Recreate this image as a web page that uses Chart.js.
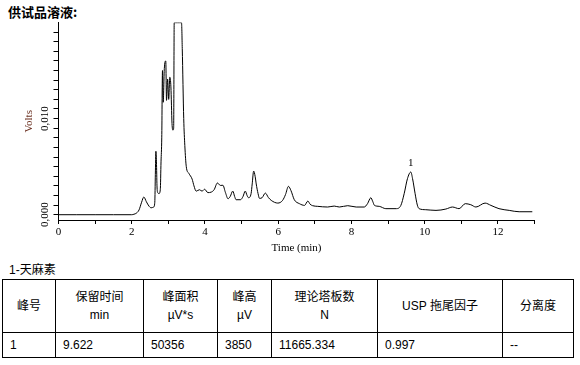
<!DOCTYPE html>
<html>
<head>
<meta charset="utf-8">
<script src="https://cdn.jsdelivr.net/npm/chart.js@4.4.1/dist/chart.umd.min.js"></script>
<style>
  body { margin: 0; background: #fff; width: 580px; height: 365px; position: relative; overflow: hidden;
         font-family: "Liberation Sans", Arial, "Noto Sans CJK SC", sans-serif; color: #000; }
  #title { position: absolute; left: 8px; top: 2px; font: bold 13px "Noto Sans CJK SC", sans-serif; }
  #wrap { position: absolute; left: 0; top: 0; width: 580px; height: 260px; }
  #compound { position: absolute; left: 9px; top: 260px; font-size: 12px; }
  table { position: absolute; left: 2px; top: 279px; border-collapse: collapse; font-size: 12px; }
  td { border: 1px solid #000; padding: 0 0 0 7px; }
  tr.head td { height: 52px; text-align: center; padding: 0; line-height: 18px; }
  tr.row td { height: 24px; }
</style>
</head>
<body>
<div id="title">供试品溶液:</div>
<div id="wrap"><canvas id="chromChart" width="580" height="260"></canvas></div>
<div id="compound">1-天麻素</div>
<table>
  <colgroup>
    <col style="width:53px"><col style="width:88px"><col style="width:74px"><col style="width:54px">
    <col style="width:106px"><col style="width:125px"><col style="width:71px">
  </colgroup>
  <tr class="head">
    <td>峰号</td><td>保留时间<br>min</td><td>峰面积<br>µV*s</td><td>峰高<br>µV</td>
    <td>理论塔板数<br>N</td><td>USP 拖尾因子</td><td>分离度</td>
  </tr>
  <tr class="row">
    <td>1</td><td>9.622</td><td>50356</td><td>3850</td><td>11665.334</td><td>0.997</td><td>--</td>
  </tr>
</table>
<script>
// retention time (min) and detector signal (V)
const times = [0, 0.5, 1.0, 1.5, 2.0, 2.06, 2.13, 2.2, 2.27, 2.33, 2.4, 2.47, 2.53, 2.6,
  2.63, 2.645, 2.66, 2.675, 2.69, 2.71, 2.745, 2.78, 2.8, 2.82, 2.84, 2.86, 2.89, 2.93,
  2.95, 2.98, 3.01, 3.04, 3.07, 3.1, 3.125, 3.145, 3.16, 3.2, 3.25, 3.3, 3.36, 3.38,
  3.42, 3.45, 3.49, 3.56, 3.65, 3.7, 3.76, 3.85, 3.92, 3.99, 4.08, 4.17, 4.25, 4.34,
  4.42, 4.49, 4.56, 4.63, 4.69, 4.76, 4.81, 4.85, 4.97, 5.04, 5.1, 5.15, 5.19, 5.26,
  5.29, 5.33, 5.37, 5.4, 5.45, 5.49, 5.56, 5.65, 5.73, 5.81, 5.99, 6.12, 6.2, 6.28,
  6.35, 6.44, 6.58, 6.72, 6.81, 6.87, 6.94, 7.08, 7.35, 7.53, 7.67, 7.9, 8.13, 8.35,
  8.44, 8.53, 8.58, 8.63, 8.76, 8.94, 9.22, 9.35, 9.44, 9.53, 9.622, 9.67, 9.74, 9.8,
  9.85, 10.03, 10.31, 10.58, 10.76, 10.94, 11.11, 11.26, 11.4, 11.65, 11.81, 12.03,
  12.31, 12.58, 12.94];
const volts = [0, 0, 0, 0, 0, 0.00005, 0.00017, 0.0005, 0.0013, 0.00184, 0.00135, 0.0009, 0.00072, 0.0008,
  0.0013, 0.0042, 0.0066, 0.0055, 0.003, 0.0023, 0.0022, 0.0026, 0.0055, 0.008, 0.015, 0.0117, 0.0152, 0.016,
  0.0119, 0.0141, 0.012, 0.0143, 0.0133, 0.0095, 0.0088, 0.009, 0.01998, 0.01998, 0.01998, 0.01998, 0.01998, 0.0173,
  0.01, 0.0072, 0.005, 0.0043, 0.0037, 0.003, 0.00245, 0.0026, 0.00245, 0.00265, 0.0023, 0.00235, 0.0026, 0.0033,
  0.00305, 0.00306, 0.0023, 0.00166, 0.0019, 0.00246, 0.0019, 0.00156, 0.00156, 0.0019, 0.00246, 0.002, 0.00177, 0.0022,
  0.0032, 0.00454, 0.004, 0.0032, 0.0022, 0.0017, 0.00177, 0.00225, 0.0018, 0.00149, 0.00121, 0.00149, 0.0021, 0.00295,
  0.0025, 0.00156, 0.00115, 0.00097, 0.00142, 0.0011, 0.00094, 0.00087, 0.0008, 0.0009, 0.0008, 0.00094, 0.0008, 0.0008,
  0.00115, 0.00177, 0.0014, 0.00097, 0.00087, 0.00063, 0.00063, 0.00097, 0.00218, 0.00375, 0.00444, 0.00375, 0.00218, 0.001,
  0.00063, 0.00052, 0.00045, 0.00059, 0.0008, 0.00063, 0.00115, 0.00104, 0.0008, 0.00121, 0.00097, 0.00063,
  0.00045, 0.00031, 0.00031];
const xTicks = [0, 1, 2, 3, 4, 5, 6, 7, 8, 9, 10, 11, 12, 13];
const yTicks = [0, 0.001, 0.002, 0.003, 0.004, 0.005, 0.006, 0.007, 0.008, 0.009, 0.01,
  0.011, 0.012, 0.013, 0.014, 0.015, 0.016, 0.017, 0.018, 0.019];
const yLabels = {'0': '0,000', '0.01': '0,010'};
const peakTimes = [9.622];
const peakNames = ['1'];

const serif = '"Liberation Serif", "Times New Roman", serif';

// rotated y tick labels and peak names
const extras = {
  id: 'extras',
  afterDraw(chart) {
    const ctx = chart.ctx;
    const x = chart.scales.x, y = chart.scales.y;
    ctx.save();
    ctx.fillStyle = '#000';
    ctx.font = '11px ' + serif;
    ctx.textAlign = 'center';
    ctx.textBaseline = 'middle';
    Object.keys(yLabels).forEach(function (v) {
      ctx.save();
      ctx.translate(45, y.getPixelForValue(parseFloat(v)));
      ctx.rotate(-Math.PI / 2);
      ctx.fillText(yLabels[v], 0, 0);
      ctx.restore();
    });
    ctx.textBaseline = 'bottom';
    peakTimes.forEach(function (t, i) {
      const idx = times.indexOf(t);
      ctx.fillText(peakNames[i], x.getPixelForValue(t), y.getPixelForValue(volts[idx]) - 3);
    });
    ctx.restore();
  }
};

const points = times.map(function (t, i) { return {x: t, y: volts[i]}; });

new Chart(document.getElementById('chromChart').getContext('2d'), {
  type: 'line',
  data: {
    datasets: [{
      data: points,
      borderColor: '#000',
      borderWidth: 1,
      pointRadius: 0,
      fill: false,
      cubicInterpolationMode: 'monotone'
    }]
  },
  options: {
    responsive: false,
    animation: false,
    layout: { padding: { left: 0, top: 22.5, right: 45.5, bottom: 5 } },
    plugins: { legend: { display: false }, tooltip: { enabled: false } },
    scales: {
      x: {
        type: 'linear',
        min: 0,
        max: 13,
        afterBuildTicks: function (s) { s.ticks = xTicks.map(function (v) { return {value: v}; }); },
        afterFit: function (s) { s.height = 35; },
        ticks: {
          autoSkip: false,
          maxRotation: 0,
          padding: 2,
          color: '#000',
          font: { family: serif, size: 11 },
          callback: function (v) { return v % 2 === 0 ? String(v) : ''; }
        },
        grid: { drawOnChartArea: false, drawTicks: true, tickLength: 4, color: '#000' },
        border: { display: true, color: '#000', width: 1 },
        title: { display: true, text: 'Time (min)', color: '#000', font: { family: serif, size: 11 }, padding: { top: 0, bottom: 0 } }
      },
      y: {
        type: 'linear',
        min: -0.00055,
        max: 0.02,
        afterBuildTicks: function (s) { s.ticks = yTicks.map(function (v) { return {value: v}; }); },
        afterFit: function (s) { s.width = 58.5; },
        ticks: { display: false },
        grid: { drawOnChartArea: false, drawTicks: true, tickLength: 5, color: '#000' },
        border: { display: true, color: '#000', width: 1 },
        title: { display: true, text: 'Volts', color: '#6b3020', font: { family: serif, size: 11 }, padding: { top: 23, bottom: 0 } }
      }
    }
  },
  plugins: [extras]
});
</script>
</body>
</html>
